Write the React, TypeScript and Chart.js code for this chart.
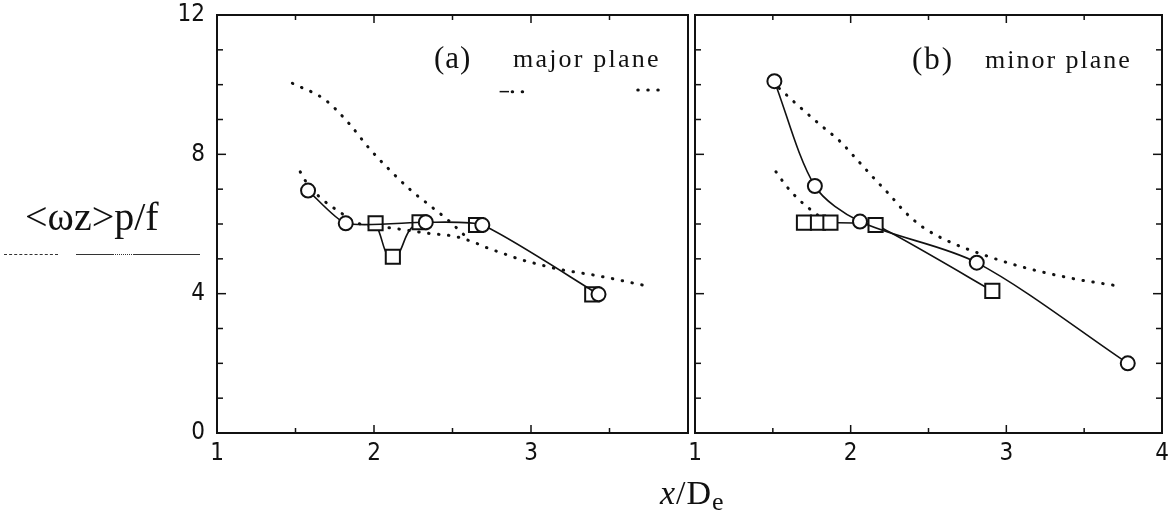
import React, { useEffect, useRef } from 'react';
import { Chart, registerables } from 'chart.js';

Chart.register(...registerables);

// ---- tick labels ----
const xLabelsA = [1, 2, 3];
const xLabelsB = [1, 2, 3, 4];
const yLabels = [0, 4, 8, 12];

// ---- panel (a) major plane ----
const circlesAX = [1.58, 1.82, 2.33, 2.69, 3.43];
const circlesAY = [6.96, 6.02, 6.05, 5.97, 3.98];
const squaresAX = [2.01, 2.12, 2.29, 2.65, 3.39];
const squaresAY = [6.02, 5.06, 6.05, 5.97, 3.98];
const dottedUpperAX = [1.48, 1.69, 1.84, 1.97, 2.12, 2.24, 2.37, 2.48, 2.58];
const dottedUpperAY = [10.04, 9.56, 8.89, 8.17, 7.46, 6.95, 6.48, 6.08, 5.66];
const dottedLowerAX = [1.53, 1.56, 1.65, 1.78, 1.9, 2.12, 2.35, 2.52, 2.65, 2.73, 2.82, 2.92, 3.05, 3.18, 3.43, 3.74];
const dottedLowerAY = [7.5, 7.26, 6.79, 6.35, 6.02, 5.88, 5.73, 5.64, 5.45, 5.3, 5.16, 5.0, 4.84, 4.7, 4.51, 4.22];
const stubSolidX = [2.8, 2.86];
const stubSolidY = [9.8, 9.8];
const stubDotsX = [2.88, 2.97];
const stubDotsY = [9.8, 9.8];
const stubDottedX = [3.68, 3.85];
const stubDottedY = [9.85, 9.85];

// ---- panel (b) minor plane ----
const circlesBX = [1.51, 1.77, 2.06, 2.81, 3.78];
const circlesBY = [10.1, 7.09, 6.07, 4.89, 2.0];
const squaresBX = [1.7, 1.79, 1.87, 2.16, 2.91];
const squaresBY = [6.04, 6.04, 6.04, 5.97, 4.08];
const dottedUpperBX = [1.54, 1.67, 1.82, 1.93, 2.03, 2.14, 2.25, 2.35, 2.46, 2.63, 2.89, 3.1, 3.42, 3.72];
const dottedUpperBY = [9.9, 9.37, 8.79, 8.38, 7.9, 7.36, 6.84, 6.34, 5.92, 5.5, 5.06, 4.77, 4.44, 4.22];
const dottedLowerBX = [1.52, 1.59, 1.67, 1.76, 1.82];
const dottedLowerBY = [7.5, 7.07, 6.69, 6.35, 6.15];

const INK = '#111';
const tickFont = '"Liberation Sans Narrow", "DejaVu Sans Condensed", "Arial Narrow", sans-serif';
const serif = '"Liberation Serif", "Times New Roman", serif';

const pts = (xs: number[], ys: number[]) => xs.map((x, i) => ({ x, y: ys[i] }));

const solidSet = (
  xs: number[],
  ys: number[],
  style: string,
  radius: number,
  tension: number,
  hideFrom = Infinity,
) => ({
  data: pts(xs, ys),
  borderColor: INK,
  borderWidth: 1.6,
  pointStyle: style,
  pointRadius: radius,
  pointBorderWidth: 2,
  pointBorderColor: INK,
  pointBackgroundColor: '#fff',
  tension,
  fill: false,
  segment: {
    borderColor: (c: any) => (c.p0DataIndex >= hideFrom ? 'rgba(0,0,0,0)' : INK),
  },
});

const dottedSet = (xs: number[], ys: number[]) => ({
  data: pts(xs, ys),
  borderColor: INK,
  borderWidth: 3,
  borderDash: [0.5, 9.5],
  borderCapStyle: 'round',
  pointRadius: 0,
  cubicInterpolationMode: 'monotone',
  fill: false,
});

const plainSolid = (xs: number[], ys: number[]) => ({
  data: pts(xs, ys),
  borderColor: INK,
  borderWidth: 1.5,
  pointRadius: 0,
  fill: false,
});

const framePlugin = {
  id: 'frame',
  afterDraw(chart: any, _args: any, opts: any) {
    const { ctx, chartArea: a, scales } = chart;
    const x = scales.x;
    const y = scales.y;
    ctx.save();
    ctx.strokeStyle = INK;
    ctx.lineWidth = 2;
    ctx.strokeRect(a.left, a.top, a.right - a.left, a.bottom - a.top);
    ctx.lineWidth = 1.5;
    const seg = (x1: number, y1: number, x2: number, y2: number) => {
      ctx.beginPath();
      ctx.moveTo(x1, y1);
      ctx.lineTo(x2, y2);
      ctx.stroke();
    };
    y.ticks.forEach((t: any) => {
      const v = t.value;
      if (v <= y.min || v >= y.max) return;
      const len = v % 4 === 0 ? 9 : 6;
      const py = y.getPixelForValue(v);
      if (opts.left) seg(a.left, py, a.left + len, py);
      if (opts.right) seg(a.right, py, a.right - len, py);
    });
    x.ticks.forEach((t: any) => {
      const v = t.value;
      if (v <= x.min || v >= x.max) return;
      const len = Number.isInteger(v) ? 8 : 5;
      const px = x.getPixelForValue(v);
      if (opts.top) seg(px, a.top, px, a.top + len);
      if (opts.bottom) seg(px, a.bottom, px, a.bottom - len);
    });
    ctx.restore();
  },
};

function makeConfig(datasets: any[], xLabels: number[], showY: boolean, padding: any, sides: any) {
  return {
    type: 'line',
    data: { datasets },
    plugins: [framePlugin],
    options: {
      animation: false,
      responsive: false,
      devicePixelRatio: 1,
      layout: { padding },
      plugins: { legend: { display: false }, tooltip: { enabled: false }, frame: sides },
      scales: {
        x: {
          type: 'linear',
          min: 1,
          max: 4,
          grid: { display: false, drawTicks: false },
          border: { display: false },
          ticks: {
            stepSize: 0.5,
            autoSkip: false,
            maxRotation: 0,
            padding: 6,
            color: INK,
            font: { family: tickFont, size: 24 },
            callback: (v: number) => (xLabels.includes(v) ? String(v) : ''),
          },
          afterFit: (s: any) => {
            s.height = 95;
            s.paddingLeft = 0;
            s.paddingRight = 0;
          },
        },
        y: {
          type: 'linear',
          min: 0,
          max: 12,
          display: showY,
          grid: { display: false, drawTicks: false },
          border: { display: false },
          ticks: {
            stepSize: 1,
            autoSkip: false,
            padding: 12,
            color: INK,
            font: { family: tickFont, size: 24 },
            callback: (v: number) => (yLabels.includes(v) ? String(v) : ''),
          },
          afterFit: (s: any) => {
            s.width = showY ? 217 : 0;
            s.paddingTop = 0;
            s.paddingBottom = 0;
          },
        },
      },
    },
  };
}

function Panel({ config, left, width }: { config: any; left: number; width: number }) {
  const ref = useRef<HTMLCanvasElement>(null);
  useEffect(() => {
    if (!ref.current) return;
    const chart = new Chart(ref.current, config);
    return () => chart.destroy();
  }, []);
  return (
    <canvas
      ref={ref}
      width={width}
      height={528}
      style={{ position: 'absolute', left, top: 0, width, height: 528 }}
    />
  );
}

export default function App() {
  const dsA = [
    solidSet(circlesAX, circlesAY, 'circle', 7, 0.2),
    solidSet(squaresAX, squaresAY, 'rect', 10, 0.5, 2),
    dottedSet(dottedUpperAX, dottedUpperAY),
    dottedSet(dottedLowerAX, dottedLowerAY),
    plainSolid(stubSolidX, stubSolidY),
    dottedSet(stubDotsX, stubDotsY),
    dottedSet(stubDottedX, stubDottedY),
  ];
  const dsB = [
    solidSet(circlesBX, circlesBY, 'circle', 7, 0.3),
    solidSet(squaresBX, squaresBY, 'rect', 10, 0.15),
    dottedSet(dottedUpperBX, dottedUpperBY),
    dottedSet(dottedLowerBX, dottedLowerBY),
  ];
  const cfgA = makeConfig(dsA, xLabelsA, true, { top: 15, right: 3, left: 0, bottom: 0 }, { left: true, top: true, bottom: true, right: false });
  const cfgB = makeConfig(dsB, xLabelsB, false, { top: 15, right: 6, left: 15, bottom: 0 }, { left: true, top: true, bottom: true, right: true });

  const txt = (s: React.CSSProperties): React.CSSProperties => ({
    position: 'absolute',
    fontFamily: serif,
    color: INK,
    lineHeight: 1,
    whiteSpace: 'nowrap',
    ...s,
  });
  const rule = (l: number, w: number, style: string): React.CSSProperties => ({
    position: 'absolute',
    left: l,
    top: 254,
    width: w,
    height: 0,
    borderTop: `1.5px ${style} #333`,
  });

  return (
    <div style={{ position: 'absolute', left: 0, top: 0, width: 1169, height: 528, background: '#fff', overflow: 'hidden' }}>
      <Panel config={cfgA} left={0} width={700} />
      <Panel config={cfgB} left={680} width={494} />
      <div style={txt({ left: 434, top: 42, fontSize: 31, letterSpacing: 1 })}>(a)</div>
      <div style={txt({ left: 513, top: 46, fontSize: 26, letterSpacing: 2.2 })}>major plane</div>
      <div style={txt({ left: 912, top: 43, fontSize: 31, letterSpacing: 2 })}>(b)</div>
      <div style={txt({ left: 985, top: 47, fontSize: 26, letterSpacing: 2 })}>minor plane</div>
      <div style={txt({ left: 25, top: 197, fontSize: 40 })}>&lt;ωz&gt;p/f</div>
      <div style={rule(4, 54, 'dashed')} />
      <div style={rule(76, 36, 'solid')} />
      <div style={rule(112, 20, 'dotted')} />
      <div style={rule(133, 67, 'solid')} />
      <div style={txt({ left: 660, top: 476, fontSize: 34, letterSpacing: 1 })}>
        <span style={{ fontStyle: 'italic' }}>x</span>/D
        <span style={{ fontSize: 26, position: 'relative', top: 6 }}>e</span>
      </div>
    </div>
  );
}
